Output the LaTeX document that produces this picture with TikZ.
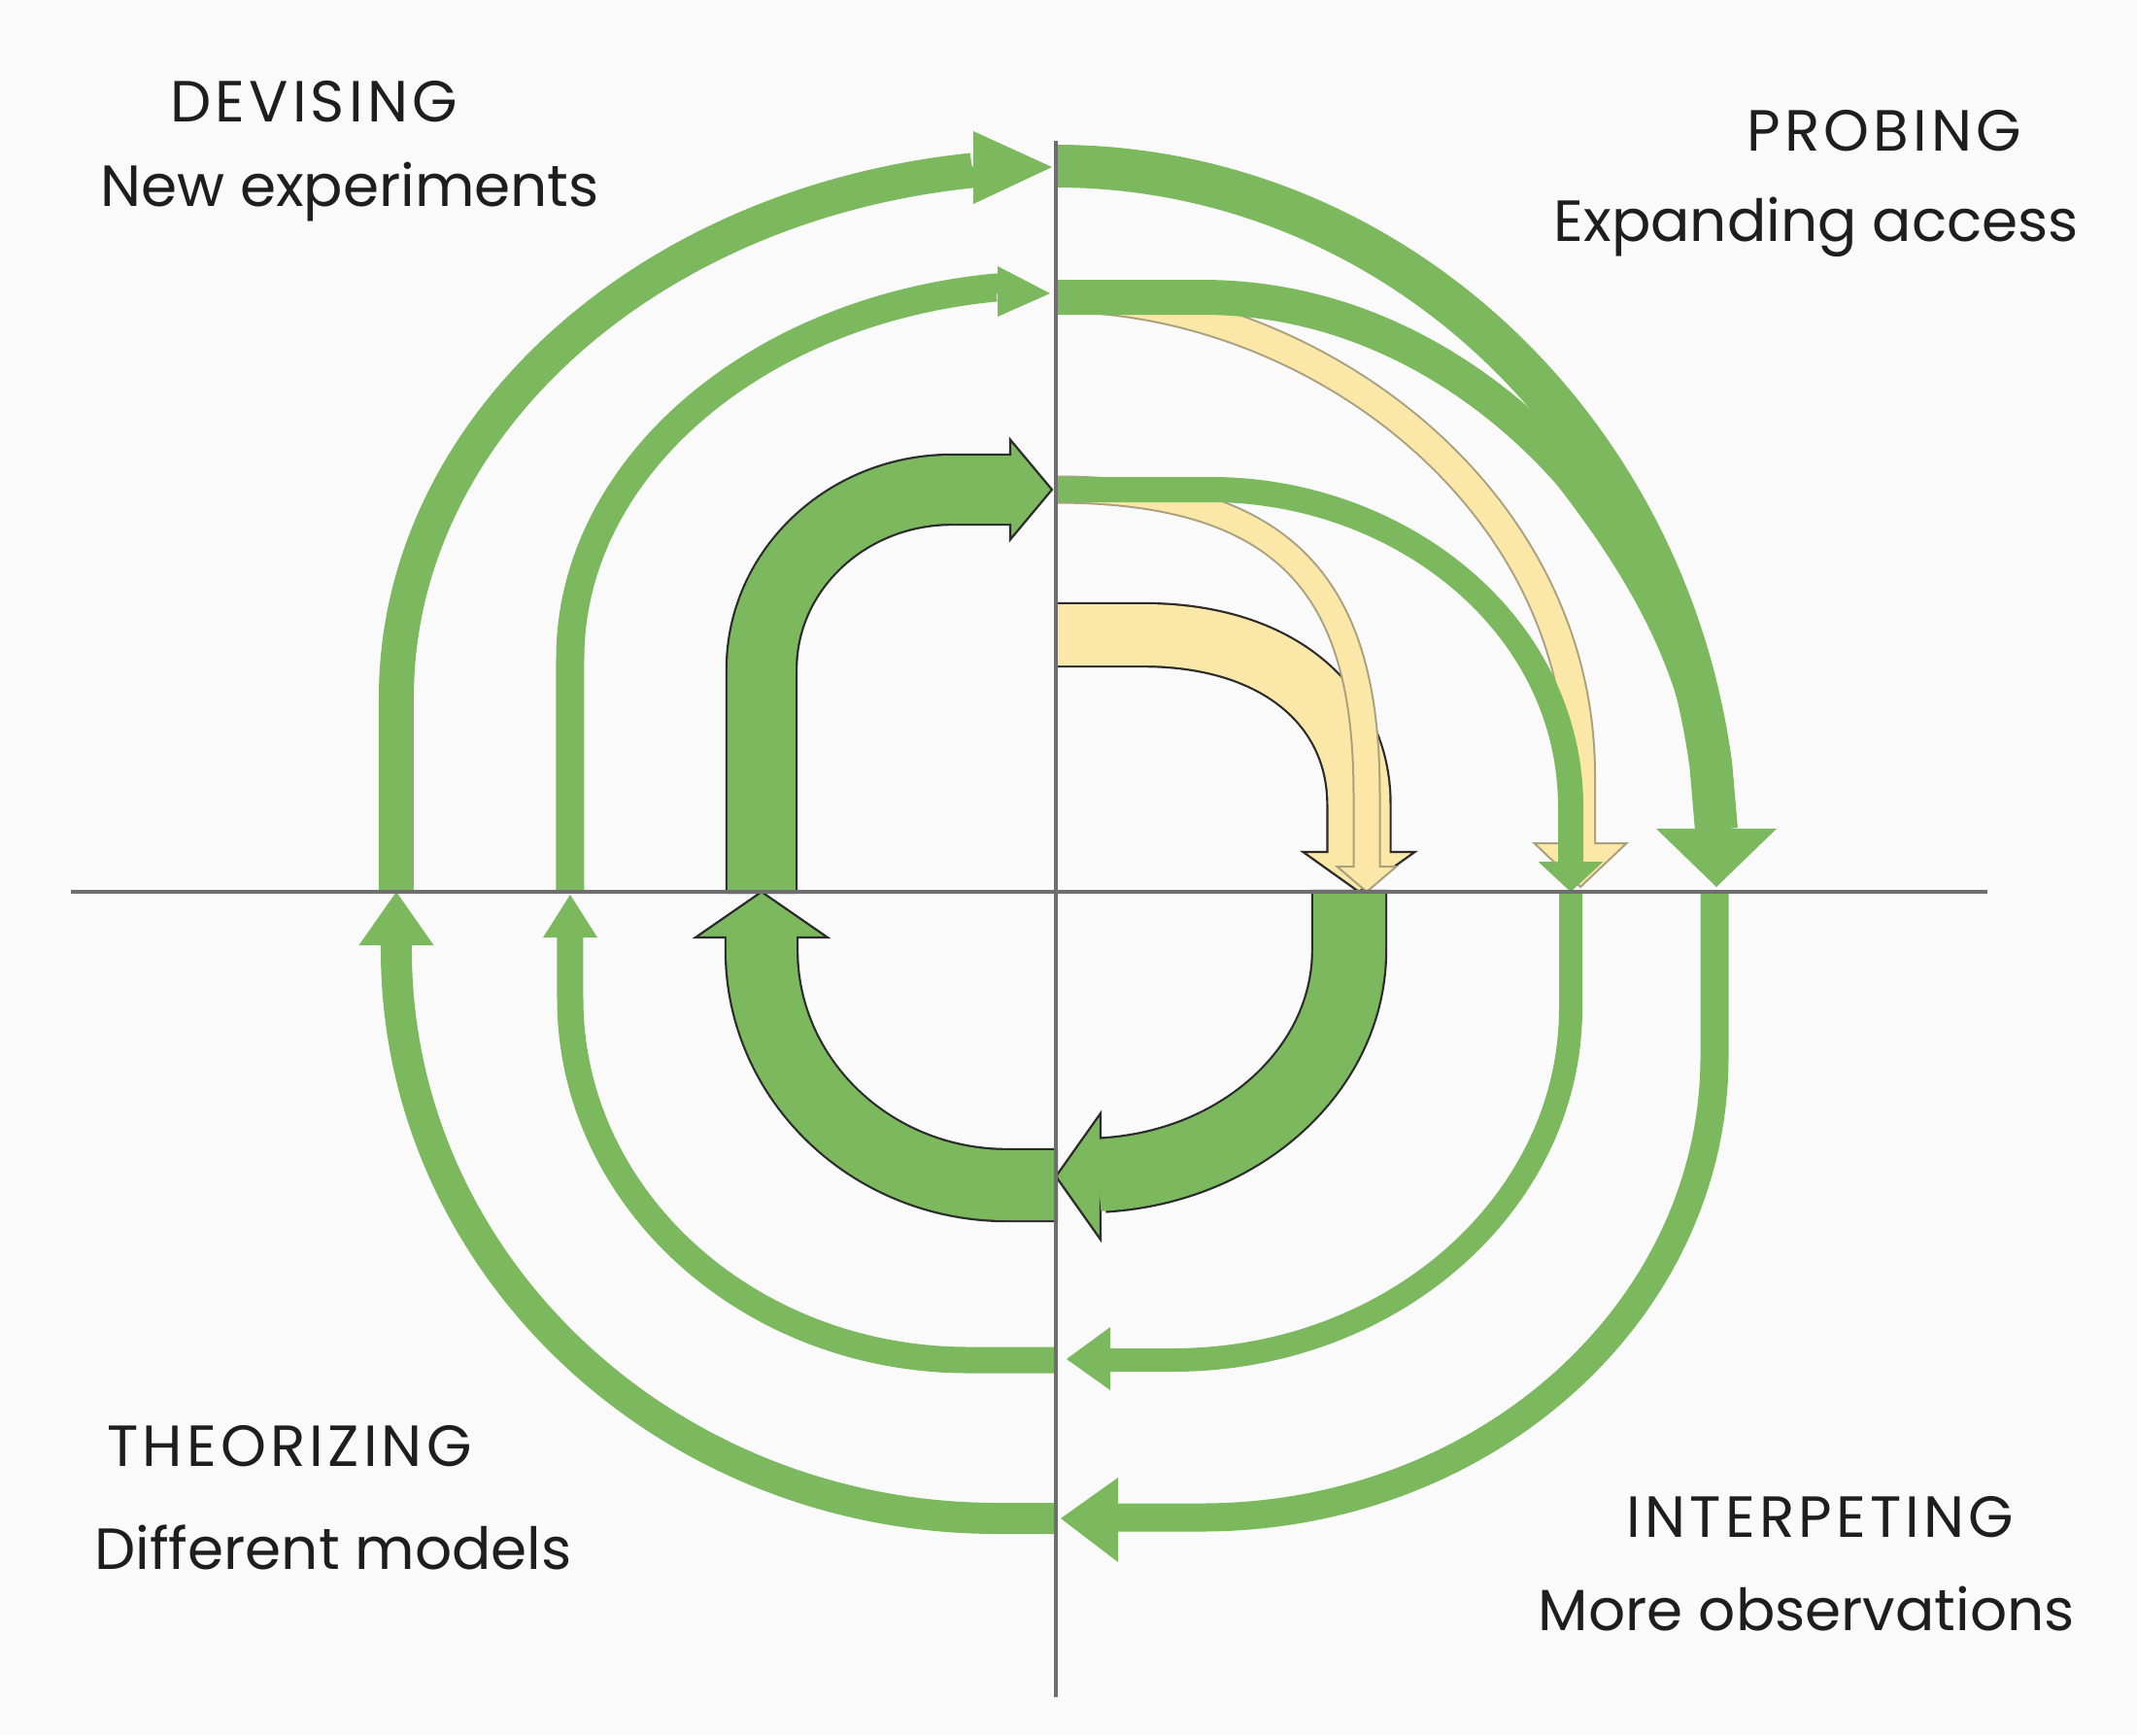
\documentclass[tikz,border=0pt]{standalone}
\usepackage{fontspec}
\setmainfont{Poppins}
\newfontfamily\capsfont[LetterSpace=7]{Poppins}
\usepackage{xcolor}
\usepackage{tikz}

\definecolor{leaf}{HTML}{7CB95E}
\definecolor{straw}{HTML}{FBE8A8}
\definecolor{rim}{HTML}{2B2B2B}
\definecolor{strawrim}{HTML}{A8A07E}
\definecolor{axisgray}{HTML}{6E6E6E}
\definecolor{ink}{HTML}{1E1E1E}
\definecolor{paper}{HTML}{FAFAFA}

\begin{document}
\begin{tikzpicture}[
        band/.style={draw=leaf, line cap=butt, line join=round},
        rimband/.style={draw=rim, line cap=butt, line join=round},
        strawband/.style={draw=straw, line cap=butt, line join=round},
        strawrimband/.style={draw=strawrim, line cap=butt, line join=round},
        leafhead/.style={fill=leaf},
        rimhead/.style={fill=leaf, draw=rim, line width=0.022cm},
        strawhead/.style={fill=straw, draw=strawrim, line width=0.02cm},
        darkstrawhead/.style={fill=straw, draw=rim, line width=0.022cm},
        axisline/.style={draw=axisgray, line width=0.045cm},
        quadtext/.style={text=ink, anchor=base, inner sep=0pt, font=\fontsize{17}{20}\selectfont},
        quadcaps/.style={quadtext, font=\capsfont\fontsize{17}{20}\selectfont}
    ]
        \fill[paper] (-10.87,-8.68) rectangle (11.13,9.18);
        \useasboundingbox (-10.87,-8.68) rectangle (11.13,9.18);

        % yellow arrows (under the green ones)
        \draw[rimband, line width=0.674cm] (0,2.645) -- (0.9,2.645) .. controls (2.3,2.645) and (3.12,1.9) .. (3.12,0.9) -- (3.12,0.41);
        \filldraw[darkstrawhead] (2.545,0.41) -- (3.12,0) -- (3.695,0.41) -- cycle;
        \draw[strawband, line width=0.63cm] (0,2.645) -- (0.9,2.645) .. controls (2.3,2.645) and (3.12,1.9) .. (3.12,0.9) -- (3.12,0.38);

        \draw[strawrimband, line width=0.29cm] (0,4.14) .. controls (2.5,4.14) and (3.2,3.0) .. (3.2,1.0) -- (3.2,0.26);
        \filldraw[strawhead] (2.895,0.26) -- (3.2,0) -- (3.505,0.26) -- cycle;
        \draw[strawband, line width=0.25cm] (0,4.14) .. controls (2.5,4.14) and (3.2,3.0) .. (3.2,1.0) -- (3.2,0.23);

        \draw[strawrimband, line width=0.32cm] (0,6.12) .. controls (2.6,6.12) and (5.4,4.1) .. (5.4,1.2) -- (5.4,0.5);
        \filldraw[strawhead] (4.925,0.5) -- (5.4,0.05) -- (5.875,0.5) -- cycle;
        \draw[strawband, line width=0.28cm] (0,6.12) .. controls (2.6,6.12) and (5.4,4.1) .. (5.4,1.2) -- (5.4,0.47);

        % outer ring
        \draw[band, line width=0.36cm] (-6.79,0) -- (-6.79,2.0) arc[start angle=180, end angle=97.3, x radius=6.79, y radius=5.47] -- (-0.84,7.44);
        \fill[leafhead] (-0.85,7.83) -- (-0.04,7.46) -- (-0.85,7.08) -- cycle;
        \draw[band, line width=0.44cm] (0,7.47) arc[start angle=90, end angle=8, x radius=6.81, y radius=7.17] -- (6.80,0.64);
        \fill[leafhead] (6.18,0.65) -- (6.80,0.05) -- (7.42,0.65) -- cycle;
        \draw[band, line width=0.29cm] (6.78,0) -- (6.78,-1.7) arc[start angle=0, end angle=-90, x radius=5.28, y radius=4.74] -- (0.63,-6.44);
        \fill[leafhead] (0.64,-6.03) -- (0.05,-6.45) -- (0.64,-6.90) -- cycle;
        \draw[band, line width=0.32cm] (0,-6.45) -- (-0.6,-6.45) arc[start angle=270, end angle=180, x radius=6.19, y radius=5.85] -- (-6.79,-0.54);
        \fill[leafhead] (-7.175,-0.55) -- (-6.79,0) -- (-6.405,-0.55) -- cycle;

        % second ring
        \draw[band, line width=0.29cm] (-5.0,0) -- (-5.0,2.4) arc[start angle=180, end angle=97.1, x radius=5.0, y radius=3.85] -- (-0.58,6.20);
        \fill[leafhead] (-0.60,6.44) -- (-0.06,6.16) -- (-0.60,5.92) -- cycle;
        \draw[band, line width=0.36cm] (0,6.12) -- (1.5,6.12) .. controls (3.3,6.12) and (4.6,5.1) .. (5.3,4.3) .. controls (6.0,3.4) and (6.6,2.4) .. (6.72,1.3);
        \draw[band, line width=0.26cm] (0,4.14) -- (1.6,4.14) .. controls (3.5,4.14) and (5.28,2.8) .. (5.30,0.9) -- (5.30,0.30);
        \fill[leafhead] (4.965,0.31) -- (5.30,0) -- (5.635,0.31) -- cycle;
        \draw[band, line width=0.24cm] (5.30,0) -- (5.30,-1.2) arc[start angle=0, end angle=-90, x radius=4.1, y radius=3.62] -- (0.55,-4.82);
        \fill[leafhead] (0.56,-4.48) -- (0.11,-4.81) -- (0.56,-5.13) -- cycle;
        \draw[band, line width=0.27cm] (0,-4.82) -- (-0.9,-4.82) arc[start angle=270, end angle=180, x radius=4.1, y radius=3.72] -- (-5.0,-0.46);
        \fill[leafhead] (-5.28,-0.47) -- (-5.0,-0.03) -- (-4.72,-0.47) -- cycle;

        % inner loop
        \draw[rimband, line width=0.744cm] (-3.03,-0.022) -- (-3.03,2.29) arc[start angle=180, end angle=90, x radius=1.96, y radius=1.85] -- (-0.47,4.14);
        \filldraw[rimhead] (-0.47,4.655) -- (-0.04,4.14) -- (-0.47,3.625) -- cycle;
        \draw[band, line width=0.70cm] (-3.03,0) -- (-3.03,2.29) arc[start angle=180, end angle=90, x radius=1.96, y radius=1.85] -- (-0.44,4.14);

        \draw[rimband, line width=0.784cm] (3.02,0.022) -- (3.02,-0.6) arc[start angle=0, end angle=-86, x radius=2.72, y radius=2.32] -- (0.46,-2.92);
        \filldraw[rimhead] (0.46,-2.28) -- (0,-2.93) -- (0.46,-3.58) -- cycle;
        \draw[band, line width=0.74cm] (3.02,0) -- (3.02,-0.6) arc[start angle=0, end angle=-86, x radius=2.72, y radius=2.32] -- (0.43,-2.92);

        \draw[rimband, line width=0.764cm] (0.022,-3.02) -- (-0.5,-3.02) arc[start angle=270, end angle=180, x radius=2.53, y radius=2.42] -- (-3.03,-0.47);
        \filldraw[rimhead] (-3.71,-0.47) -- (-3.03,0) -- (-2.35,-0.47) -- cycle;
        \draw[band, line width=0.72cm] (0,-3.02) -- (-0.5,-3.02) arc[start angle=270, end angle=180, x radius=2.53, y radius=2.42] -- (-3.03,-0.44);

        % axes
        \draw[axisline] (-10.14,0) -- (9.59,0);
        \draw[axisline] (0,7.73) -- (0,-8.29);

        % quadrant labels
        \node[quadcaps] (devising) at (-7.64,7.92) {DEVISING};
        \node[quadtext] (newexp) at (-7.27,7.06) {New experiments};
        \node[quadcaps] (probing) at (8.53,7.63) {PROBING};
        \node[quadtext] (expanding) at (7.83,6.70) {Expanding access};
        \node[quadcaps] (theorizing) at (-7.89,-5.91) {THEORIZING};
        \node[quadtext] (different) at (-7.44,-6.97) {Different models};
        \node[quadcaps] (interpeting) at (7.87,-6.64) {INTERPETING};
        \node[quadtext] (moreobs) at (7.73,-7.60) {More observations};
\end{tikzpicture}
\end{document}
